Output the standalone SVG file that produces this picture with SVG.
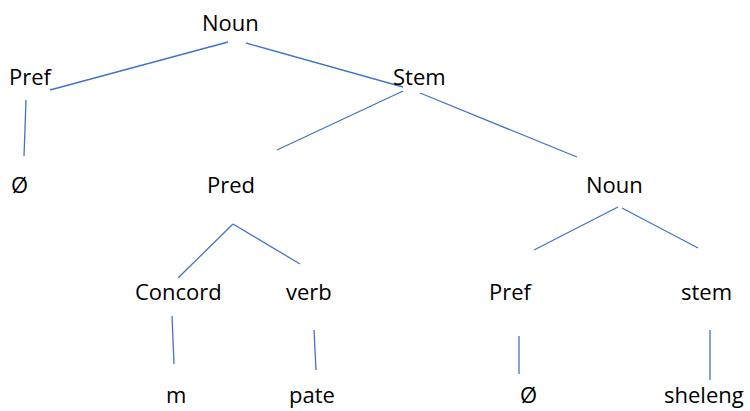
<svg xmlns="http://www.w3.org/2000/svg" width="750" height="411" viewBox="0 0 750 411">
<style>
text{font-family:"Open Sans","Liberation Sans",sans-serif;font-size:22px;fill:#000}
.c line{stroke:#4472C4;stroke-width:1.3;fill:none}
</style>
<rect width="750" height="411" fill="#fff"/>
<g class="c" id="connectors">
<line x1="228" y1="42" x2="50" y2="90"/>
<line x1="246" y1="43" x2="403" y2="87"/>
<line x1="26" y1="100" x2="24" y2="156"/>
<line x1="403" y1="91" x2="277" y2="150"/>
<line x1="420" y1="93" x2="577" y2="157"/>
<line x1="233" y1="224" x2="178" y2="278"/>
<line x1="233" y1="224" x2="300" y2="264"/>
<line x1="618" y1="207" x2="534" y2="250"/>
<line x1="622" y1="208" x2="698" y2="248"/>
<line x1="172" y1="316" x2="174" y2="364"/>
<line x1="314" y1="330" x2="316" y2="370"/>
<line x1="519" y1="336" x2="519" y2="374"/>
<line x1="710" y1="330" x2="710" y2="380"/>
</g>
<g id="n-noun"><text x="202" y="31">Noun</text></g>
<g id="n-pref"><text x="9" y="85">Pref</text></g>
<g id="n-stem"><text x="393" y="85">Stem</text></g>
<g id="n-null1"><text x="11" y="193">Ø</text></g>
<g id="n-pred"><text x="207" y="193">Pred</text></g>
<g id="n-noun2"><text x="586" y="193">Noun</text></g>
<g id="n-concord"><text x="135" y="300">Concord</text></g>
<g id="n-verb"><text x="286" y="300">verb</text></g>
<g id="n-pref2"><text x="489" y="300">Pref</text></g>
<g id="n-stem2"><text x="681" y="300">stem</text></g>
<g id="n-m"><text x="166" y="403">m</text></g>
<g id="n-pate"><text x="289" y="403">pate</text></g>
<g id="n-null2"><text x="520" y="403">Ø</text></g>
<g id="n-sheleng"><text x="664" y="403">sheleng</text></g>
</svg>
